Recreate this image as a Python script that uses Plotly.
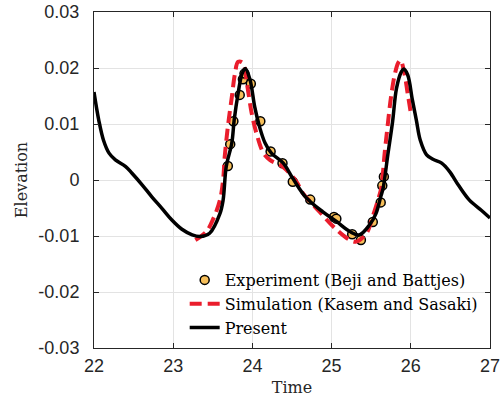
import plotly.graph_objects as go

# Present (black solid)
t_present = [22.00, 22.06, 22.12, 22.19, 22.27, 22.40, 22.48, 22.61, 22.73, 22.86, 22.98, 23.11,
             23.24, 23.34, 23.46, 23.59, 23.63, 23.67, 23.74, 23.77, 23.82, 23.87, 23.91, 23.97,
             24.03, 24.09, 24.16, 24.24, 24.39, 24.51, 24.67, 24.89, 25.06, 25.23, 25.35, 25.48,
             25.56, 25.62, 25.65, 25.71, 25.77, 25.82, 25.88, 25.91, 25.96, 26.02, 26.07, 26.12,
             26.20, 26.28, 26.39, 26.49, 26.60, 26.74, 26.89, 27.00]
e_present = [0.0157, 0.0107, 0.0071, 0.0048, 0.0036, 0.0024, 0.0012, -0.0009, -0.0030, -0.0051, -0.0071, -0.0088,
             -0.0098, -0.0101, -0.0095, -0.0060, -0.0036, 0.0024, 0.0066, 0.0107, 0.0155, 0.0190, 0.0199, 0.0179,
             0.0130, 0.0095, 0.0066, 0.0048, 0.0030, 0.0003, -0.0030, -0.0057, -0.0074, -0.0092, -0.0098, -0.0080,
             -0.0060, -0.0030, -0.0015, 0.0045, 0.0104, 0.0164, 0.0193, 0.0198, 0.0188, 0.0143, 0.0107, 0.0071,
             0.0045, 0.0037, 0.0030, 0.0015, -0.0009, -0.0036, -0.0054, -0.0068]

# Simulation (Kasem and Sasaki) red dashed
t_sim = [23.28, 23.42, 23.51, 23.59, 23.63, 23.65, 23.69, 23.74, 23.78, 23.82, 23.88, 23.93,
         23.99, 24.05, 24.14, 24.22, 24.39, 24.56, 24.63, 24.85, 25.02, 25.23, 25.31, 25.44,
         25.52, 25.61, 25.63, 25.67, 25.71, 25.75, 25.80, 25.84, 25.87, 25.92, 25.96, 26.00]
e_sim = [-0.0107, -0.0092, -0.0068, -0.0036, 0.0000, 0.0041, 0.0095, 0.0148, 0.0190, 0.0211, 0.0209, 0.0173,
         0.0120, 0.0084, 0.0048, 0.0036, 0.0023, -0.0004, -0.0022, -0.0057, -0.0083, -0.0107, -0.0110, -0.0095,
         -0.0065, -0.0024, -0.0012, 0.0048, 0.0100, 0.0148, 0.0190, 0.0209, 0.0214, 0.0190, 0.0155, 0.0120]

# Experiment (Beji and Battjes)
t_exp = [23.69, 23.72, 23.76, 23.84, 23.88, 23.90, 23.98, 24.10, 24.23, 24.38, 24.51, 24.73,
         25.03, 25.06, 25.26, 25.37, 25.52, 25.62, 25.64, 25.66]
e_exp = [0.0025, 0.0064, 0.0105, 0.0152, 0.0180, 0.0190, 0.0172, 0.0105, 0.0051, 0.0030, -0.0003, -0.0035,
         -0.0066, -0.0069, -0.0097, -0.0107, -0.0075, -0.0040, -0.0010, 0.0006]

x_ticks = [22, 23, 24, 25, 26, 27]
y_ticks = [-0.03, -0.02, -0.01, 0, 0.01, 0.02, 0.03]
y_tick_text = ["-0.03", "-0.02", "-0.01", "0", "0.01", "0.02", "0.03"]

fig = go.Figure()
fig.add_trace(go.Scatter(x=t_exp, y=e_exp, mode="markers", name="Experiment (Beji and Battjes)",
                         marker=dict(symbol="circle", size=9, color="#F6BF5A",
                                     line=dict(color="black", width=1.5))))
fig.add_trace(go.Scatter(x=t_sim, y=e_sim, mode="lines", name="Simulation (Kasem and Sasaki)",
                         line=dict(color="#EA1D2C", width=4, dash="12px,6px", shape="spline")))
fig.add_trace(go.Scatter(x=t_present, y=e_present, mode="lines", name="Present",
                         line=dict(color="black", width=3.5, shape="spline")))

axis_common = dict(showline=True, linecolor="#262626", linewidth=1, mirror="ticks",
                   ticks="inside", ticklen=5, tickcolor="#262626",
                   showgrid=True, gridcolor="#e3e3e3", gridwidth=1, zeroline=False,
                   automargin=False,
                   tickfont=dict(family="Liberation Sans, Arial", size=18, color="#262626"))

fig.update_xaxes(range=[22, 27], tickvals=x_ticks, ticklabelstandoff=1,
                 title=dict(text="Time", font=dict(family="DejaVu Serif", size=16, color="#262626"),
                            standoff=7),
                 **axis_common)
fig.update_yaxes(range=[-0.03, 0.03], tickvals=y_ticks, ticktext=y_tick_text, ticklabelstandoff=10,
                 title=dict(text="Elevation", font=dict(family="DejaVu Serif", size=16, color="#262626"),
                            standoff=6),
                 **axis_common)

fig.update_layout(
    width=502, height=408,
    margin=dict(l=94, r=12, t=12, b=60),
    plot_bgcolor="white", paper_bgcolor="white",
    showlegend=True,
    legend=dict(x=0.229, y=0.253, xanchor="left", yanchor="top",
                bgcolor="rgba(0,0,0,0)", borderwidth=0,
                font=dict(family="DejaVu Serif", size=16, color="black"),
                itemwidth=30, tracegroupgap=0),
)

fig.write_html("out.html", config={"displayModeBar": False},
               post_script="document.body.style.margin='0';")
